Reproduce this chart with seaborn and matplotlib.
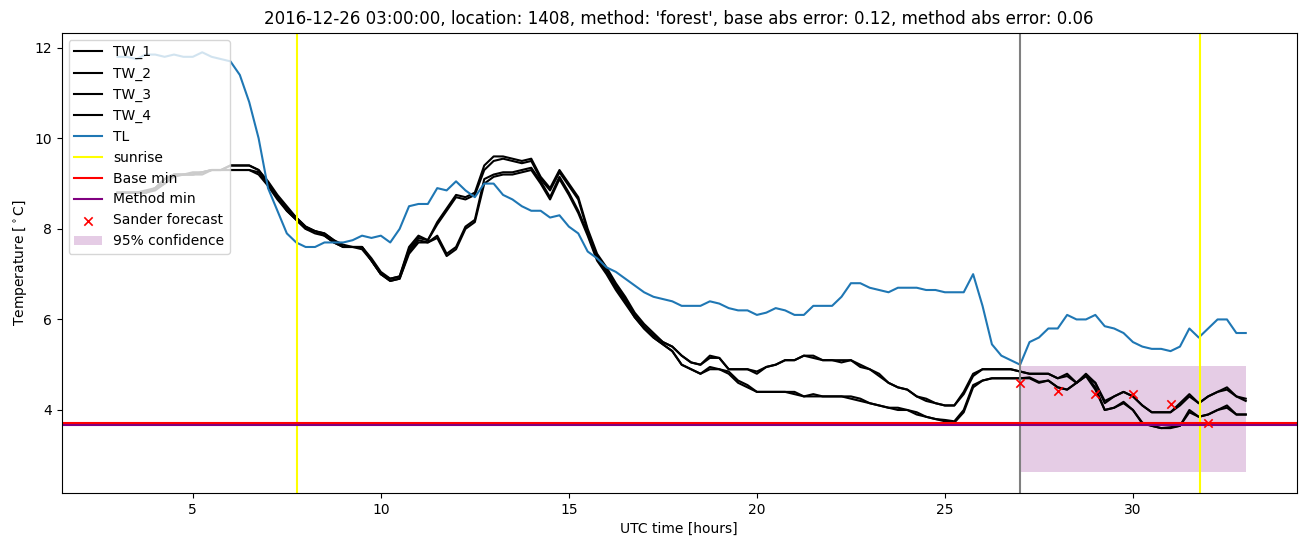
import numpy as np
import pandas as pd
import matplotlib
matplotlib.use("Agg")
import matplotlib.pyplot as plt
import seaborn as sns

# ---- data ----
hours = np.arange(3.0, 33.0001, 0.25)

TL = [11.8, 11.8, 11.75, 11.85, 11.85, 11.8, 11.85, 11.8, 11.8, 11.9, 11.8, 11.75,
      11.7, 11.4, 10.8, 10.0, 8.9, 8.4, 7.9, 7.7,
      7.6, 7.6, 7.7, 7.7, 7.7, 7.75, 7.85, 7.8,
      7.85, 7.7, 8.0, 8.5, 8.55, 8.55, 8.9, 8.85,
      9.05, 8.85, 8.7, 9.0, 9.0, 8.75, 8.65, 8.5,
      8.4, 8.4, 8.25, 8.3, 8.05, 7.9, 7.5, 7.35,
      7.15, 7.05, 6.9, 6.75, 6.6, 6.5, 6.45, 6.4,
      6.3, 6.3, 6.3, 6.4, 6.35, 6.25, 6.2, 6.2,
      6.1, 6.15, 6.25, 6.2, 6.1, 6.1, 6.3, 6.3,
      6.3, 6.5, 6.8, 6.8, 6.7, 6.65, 6.6, 6.7,
      6.7, 6.7, 6.65, 6.65, 6.6, 6.6, 6.6, 7.0,
      6.3, 5.45, 5.2, 5.1, 5.0, 5.5, 5.6, 5.8,
      5.8, 6.1, 6.0, 6.0, 6.1, 5.85, 5.8, 5.7,
      5.5, 5.4, 5.35, 5.35, 5.3, 5.4, 5.8, 5.6,
      5.8, 6.0, 6.0, 5.7, 5.7]

TW_1 = [8.8, 8.8, 8.8, 8.85, 8.9, 9.1, 9.2, 9.2, 9.25, 9.25, 9.3, 9.3,
        9.4, 9.4, 9.4, 9.3, 9.0, 8.7, 8.45, 8.25,
        8.05, 7.95, 7.9, 7.75, 7.65, 7.6, 7.6, 7.35,
        7.05, 6.9, 6.95, 7.55, 7.8, 7.75, 8.1, 8.4,
        8.7, 8.65, 8.75, 9.3, 9.5, 9.55, 9.5, 9.45,
        9.5, 9.1, 8.85, 9.25, 8.95, 8.65, 7.95, 7.4,
        7.1, 6.75, 6.45, 6.1, 5.85, 5.65, 5.5, 5.4,
        5.2, 5.05, 5.0, 5.15, 5.15, 4.9, 4.9, 4.9,
        4.85, 4.95, 5.0, 5.1, 5.1, 5.2, 5.15, 5.1,
        5.1, 5.05, 5.1, 4.95, 4.9, 4.75, 4.6, 4.5,
        4.45, 4.3, 4.25, 4.15, 4.1, 4.1, 4.4, 4.8,
        4.9, 4.9, 4.9, 4.9, 4.85, 4.8, 4.8, 4.8,
        4.7, 4.8, 4.6, 4.75, 4.6, 4.15, 4.3, 4.4,
        4.3, 4.1, 3.95, 3.95, 3.95, 4.15, 4.35, 4.15,
        4.3, 4.4, 4.45, 4.3, 4.2]

TW_2 = [8.8, 8.8, 8.8, 8.8, 8.9, 9.1, 9.2, 9.2, 9.2, 9.25, 9.3, 9.3,
        9.4, 9.4, 9.4, 9.3, 9.05, 8.75, 8.5, 8.25,
        8.05, 7.95, 7.9, 7.75, 7.6, 7.6, 7.6, 7.3,
        7.0, 6.9, 6.95, 7.6, 7.85, 7.75, 8.15, 8.45,
        8.75, 8.7, 8.8, 9.4, 9.6, 9.6, 9.55, 9.5,
        9.55, 9.15, 8.9, 9.3, 9.0, 8.7, 8.0, 7.45,
        7.15, 6.8, 6.5, 6.15, 5.9, 5.7, 5.5, 5.4,
        5.2, 5.05, 5.0, 5.2, 5.15, 4.9, 4.9, 4.9,
        4.8, 4.95, 5.0, 5.1, 5.1, 5.2, 5.2, 5.1,
        5.1, 5.1, 5.1, 5.0, 4.9, 4.8, 4.6, 4.5,
        4.45, 4.3, 4.2, 4.15, 4.1, 4.1, 4.35, 4.75,
        4.9, 4.9, 4.9, 4.9, 4.85, 4.8, 4.8, 4.8,
        4.7, 4.75, 4.6, 4.8, 4.6, 4.2, 4.3, 4.4,
        4.3, 4.1, 3.95, 3.95, 3.95, 4.1, 4.3, 4.15,
        4.3, 4.4, 4.5, 4.3, 4.25]

TW_3 = [8.8, 8.8, 8.8, 8.8, 8.9, 9.0, 9.2, 9.2, 9.2, 9.25, 9.3, 9.3,
        9.3, 9.3, 9.3, 9.25, 9.0, 8.7, 8.4, 8.2,
        8.0, 7.95, 7.85, 7.7, 7.6, 7.6, 7.6, 7.3,
        7.0, 6.85, 6.9, 7.5, 7.75, 7.7, 7.85, 7.45,
        7.6, 8.05, 8.2, 9.1, 9.2, 9.25, 9.25, 9.3,
        9.35, 9.05, 8.7, 9.15, 8.8, 8.4, 7.9, 7.35,
        7.05, 6.7, 6.4, 6.05, 5.8, 5.6, 5.45, 5.3,
        5.0, 4.9, 4.8, 4.95, 4.9, 4.85, 4.65, 4.55,
        4.4, 4.4, 4.4, 4.4, 4.4, 4.3, 4.35, 4.3,
        4.3, 4.3, 4.3, 4.25, 4.15, 4.1, 4.05, 4.05,
        4.0, 3.95, 3.85, 3.8, 3.78, 3.75, 4.0, 4.55,
        4.65, 4.7, 4.7, 4.7, 4.7, 4.72, 4.62, 4.65,
        4.5, 4.45, 4.6, 4.77, 4.5, 4.0, 4.05, 4.18,
        4.0, 3.72, 3.65, 3.6, 3.62, 3.65, 4.0, 3.85,
        3.9, 4.0, 4.1, 3.9, 3.9]

TW_4 = [8.8, 8.8, 8.8, 8.8, 8.85, 9.0, 9.15, 9.2, 9.2, 9.2, 9.3, 9.3,
        9.3, 9.3, 9.3, 9.2, 8.95, 8.65, 8.4, 8.2,
        8.0, 7.9, 7.85, 7.7, 7.6, 7.6, 7.55, 7.3,
        7.0, 6.85, 6.9, 7.45, 7.7, 7.7, 7.8, 7.4,
        7.55, 8.0, 8.15, 9.0, 9.15, 9.2, 9.2, 9.25,
        9.3, 9.0, 8.65, 9.1, 8.75, 8.35, 7.85, 7.3,
        7.0, 6.65, 6.35, 6.05, 5.8, 5.6, 5.45, 5.3,
        5.0, 4.9, 4.8, 4.9, 4.9, 4.8, 4.6, 4.5,
        4.4, 4.4, 4.4, 4.4, 4.35, 4.3, 4.3, 4.3,
        4.3, 4.3, 4.25, 4.2, 4.15, 4.1, 4.05, 4.0,
        4.0, 3.9, 3.85, 3.8, 3.75, 3.72, 3.95, 4.5,
        4.65, 4.7, 4.7, 4.7, 4.7, 4.7, 4.6, 4.65,
        4.5, 4.45, 4.6, 4.75, 4.45, 4.0, 4.05, 4.15,
        4.0, 3.7, 3.65, 3.6, 3.6, 3.65, 3.95, 3.85,
        3.9, 4.0, 4.05, 3.9, 3.9]

sunrise_hours = [7.78, 31.78]
forecast_start = 27.0
base_min = 3.72
method_min = 3.66
sander_hours = [27, 28, 29, 30, 31, 32]
sander_values = [4.59, 4.43, 4.35, 4.35, 4.13, 3.71]
conf_hours = [27.0, 33.0]
conf_low = 2.63
conf_high = 4.98

title = "2016-12-26 03:00:00, location: 1408, method: 'forest', base abs error: 0.12, method abs error: 0.06"

# ---- plot ----
fig, ax = plt.subplots(figsize=(13.1, 5.47), dpi=100)
fig.subplots_adjust(left=0.047, right=0.99, top=0.94, bottom=0.099)

for name, vals in [("TW_1", TW_1), ("TW_2", TW_2), ("TW_3", TW_3), ("TW_4", TW_4)]:
    sns.lineplot(x=hours, y=vals, color="black", label=name, ax=ax, linewidth=1.5)
sns.lineplot(x=hours, y=TL, color="tab:blue", label="TL", ax=ax, linewidth=1.5)

for i, s in enumerate(sunrise_hours):
    ax.axvline(s, color="yellow", label="sunrise" if i == 0 else None, linewidth=1.5)
ax.axvline(forecast_start, color="gray", linewidth=1.5)
ax.axhline(base_min, color="red", label="Base min", linewidth=1.5)
ax.axhline(method_min, color="purple", label="Method min", linewidth=1.5)

sns.scatterplot(x=sander_hours, y=sander_values, marker="x", color="red",
                s=36, linewidth=1.2, label="Sander forecast", ax=ax, zorder=5)
ax.fill_between(conf_hours, [conf_low] * 2, [conf_high] * 2, color="purple",
                alpha=0.2, linewidth=0, label="95% confidence")

ax.set_xlim(1.51, 34.36)
ax.set_ylim(2.17, 12.33)
ax.set_xticks([5, 10, 15, 20, 25, 30])
ax.set_yticks([4, 6, 8, 10, 12])
ax.set_xlabel("UTC time [hours]")
ax.set_ylabel(r"Temperature [$^\circ$C]")
ax.set_title(title)
ax.legend(loc="upper left")

fig.savefig("out.png", dpi=100)
